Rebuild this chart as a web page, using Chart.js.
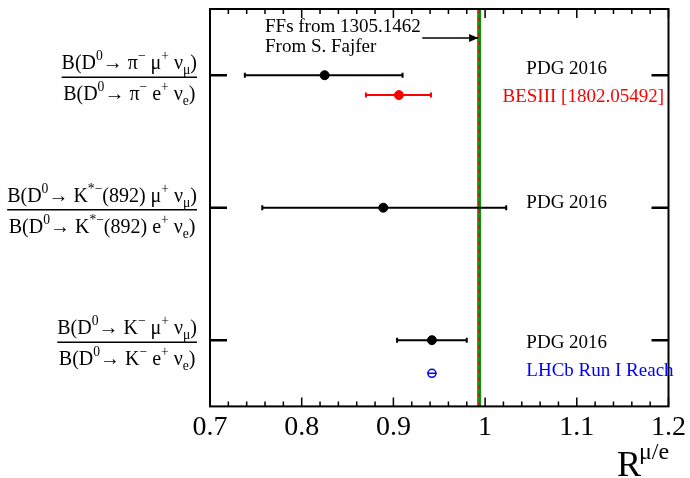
<!DOCTYPE html>
<html>
<head>
<meta charset="utf-8">
<script src="https://cdn.jsdelivr.net/npm/chart.js@4.4.0/dist/chart.umd.min.js"></script>
<style>
html, body { margin: 0; padding: 0; background: #fff; }
#wrap { width: 690px; height: 478px; position: relative; }
</style>
</head>
<body>
<div id="wrap"><canvas id="c"></canvas></div>
<script>
// 行の位置 (上から, y軸 0..3)
const rowPos = [0.5, 1.5, 2.5];

// 行ラベル (分子 / 分母) : [文字, 'sup' | 'sub']
const rowLabelNum = [
    [['B(D'], ['0', 'sup'], ['\u2192 \u03c0'], ['\u2212', 'sup'], [' \u03bc'], ['+', 'sup'], [' \u03bd'], ['\u03bc', 'sub'], [')']],
    [['B(D'], ['0', 'sup'], ['\u2192 K'], ['*\u2212', 'sup'], ['(892) \u03bc'], ['+', 'sup'], [' \u03bd'], ['\u03bc', 'sub'], [')']],
    [['B(D'], ['0', 'sup'], ['\u2192 K'], ['\u2212', 'sup'], [' \u03bc'], ['+', 'sup'], [' \u03bd'], ['\u03bc', 'sub'], [')']]
];
const rowLabelDen = [
    [['B(D'], ['0', 'sup'], ['\u2192 \u03c0'], ['\u2212', 'sup'], [' e'], ['+', 'sup'], [' \u03bd'], ['e', 'sub'], [')']],
    [['B(D'], ['0', 'sup'], ['\u2192 K'], ['*\u2212', 'sup'], ['(892) e'], ['+', 'sup'], [' \u03bd'], ['e', 'sub'], [')']],
    [['B(D'], ['0', 'sup'], ['\u2192 K'], ['\u2212', 'sup'], [' e'], ['+', 'sup'], [' \u03bd'], ['e', 'sub'], [')']]
];

// PDG 2016
const pdgValue = [0.825, 0.889, 0.942];
const pdgLow = [0.738, 0.757, 0.904];
const pdgHigh = [0.910, 1.023, 0.980];

// BESIII [1802.05492] (pi 行)
const besValue = [0.906];
const besLow = [0.870];
const besHigh = [0.941];
const besPos = [0.65];

// LHCb Run I Reach (K 行)
const lhcbValue = [0.942];
const lhcbLow = [0.937];
const lhcbHigh = [0.947];
const lhcbPos = [2.75];

// 予測値 (FFs from 1305.1462)
const smValue = 0.9935;

// x軸目盛り
const xTicks = [0.7, 0.8, 0.9, 1.0, 1.1, 1.2];

const SERIF = '"Liberation Serif", "DejaVu Serif", serif';

// 上付き・下付き付きの文字列
function richWidth(ctx, segs, size) {
    let w = 0;
    segs.forEach(([t, k]) => {
        ctx.font = `${k ? size * 0.68 : size}px ${SERIF}`;
        w += ctx.measureText(t).width;
    });
    return w;
}

function drawRich(ctx, segs, x, y, size) {
    ctx.textBaseline = 'alphabetic';
    ctx.textAlign = 'left';
    segs.forEach(([t, k]) => {
        ctx.font = `${k ? size * 0.68 : size}px ${SERIF}`;
        let dy = 0;
        if (k === 'sup') dy = -size * 0.45;
        if (k === 'sub') dy = size * 0.25;
        ctx.fillText(t, x, y + dy);
        x += ctx.measureText(t).width;
    });
}

// 誤差棒
function drawErrBar(ctx, xs, ys, lo, hi, y, color) {
    const x1 = xs.getPixelForValue(lo);
    const x2 = xs.getPixelForValue(hi);
    const py = ys.getPixelForValue(y);
    ctx.strokeStyle = color;
    ctx.lineWidth = 2;
    ctx.beginPath();
    ctx.moveTo(x1, py); ctx.lineTo(x2, py);
    ctx.moveTo(x1, py - 2.5); ctx.lineTo(x1, py + 2.5);
    ctx.moveTo(x2, py - 2.5); ctx.lineTo(x2, py + 2.5);
    ctx.stroke();
}

const backgroundPlugin = {
    id: 'background',
    beforeDatasetsDraw(chart) {
        const { ctx, chartArea: a, scales: { x, y } } = chart;
        ctx.save();

        // 予測線
        const sx = x.getPixelForValue(smValue);
        ctx.strokeStyle = '#138f13';
        ctx.lineWidth = 4;
        ctx.beginPath(); ctx.moveTo(sx, a.top); ctx.lineTo(sx, a.bottom); ctx.stroke();
        ctx.strokeStyle = '#ff0000';
        ctx.lineWidth = 1.5;
        ctx.setLineDash([4, 4]);
        ctx.beginPath(); ctx.moveTo(sx, a.top); ctx.lineTo(sx, a.bottom); ctx.stroke();
        ctx.setLineDash([]);

        // 誤差棒
        pdgValue.forEach((v, i) => drawErrBar(ctx, x, y, pdgLow[i], pdgHigh[i], rowPos[i], '#000'));
        besValue.forEach((v, i) => drawErrBar(ctx, x, y, besLow[i], besHigh[i], besPos[i], '#ff0000'));
        lhcbValue.forEach((v, i) => {
            ctx.strokeStyle = '#0000ff';
            ctx.lineWidth = 1.5;
            const py = y.getPixelForValue(lhcbPos[i]);
            ctx.beginPath();
            ctx.moveTo(x.getPixelForValue(lhcbLow[i]), py);
            ctx.lineTo(x.getPixelForValue(lhcbHigh[i]), py);
            ctx.stroke();
        });
        ctx.restore();
    },
    afterDraw(chart) {
        const { ctx, chartArea: a, scales: { x, y } } = chart;
        ctx.save();

        // 枠
        ctx.strokeStyle = '#000';
        ctx.lineWidth = 2;
        ctx.strokeRect(a.left, a.top, a.right - a.left, a.bottom - a.top);

        // x目盛り (上下, 内向き)
        ctx.lineWidth = 1.5;
        ctx.beginPath();
        for (let k = 0; k <= 25; k++) {
            const v = 0.7 + k * 0.02;
            const px = x.getPixelForValue(v);
            const len = k % 5 === 0 ? 9 : 5;
            ctx.moveTo(px, a.bottom); ctx.lineTo(px, a.bottom - len);
            ctx.moveTo(px, a.top); ctx.lineTo(px, a.top + len);
        }
        ctx.stroke();

        // y目盛り
        ctx.lineWidth = 2.5;
        ctx.beginPath();
        rowPos.forEach(r => {
            const py = y.getPixelForValue(r);
            ctx.moveTo(a.left, py); ctx.lineTo(a.left + 17, py);
            ctx.moveTo(a.right, py); ctx.lineTo(a.right - 17, py);
        });
        ctx.stroke();

        // 行ラベル
        ctx.fillStyle = '#000';
        const size = 20;
        rowPos.forEach((r, i) => {
            const py = y.getPixelForValue(r);
            const wn = richWidth(ctx, rowLabelNum[i], size);
            const wd = richWidth(ctx, rowLabelDen[i], size);
            const w = Math.max(wn, wd);
            const right = 197;
            ctx.lineWidth = 1.5;
            ctx.beginPath(); ctx.moveTo(right - w, py + 2); ctx.lineTo(right, py + 2); ctx.stroke();
            drawRich(ctx, rowLabelNum[i], right - w + (w - wn) / 2, py - 6, size);
            drawRich(ctx, rowLabelDen[i], right - w + (w - wd) / 2, py + 25, size);
        });

        // 凡例テキスト
        ctx.font = `19px ${SERIF}`;
        ctx.textBaseline = 'middle';
        ctx.textAlign = 'left';
        const tx = x.getPixelForValue(1.045);
        ctx.fillStyle = '#000';
        ctx.fillText('PDG 2016', tx, y.getPixelForValue(rowPos[0]) - 6);
        ctx.fillText('PDG 2016', tx, y.getPixelForValue(rowPos[1]) - 5);
        ctx.fillText('PDG 2016', tx, y.getPixelForValue(rowPos[2]) + 3);
        ctx.fillStyle = '#ff0000';
        ctx.fillText('BESIII [1802.05492]', x.getPixelForValue(1.019), y.getPixelForValue(besPos[0]) + 2);
        ctx.fillStyle = '#0000ff';
        ctx.fillText('LHCb Run I Reach', tx, y.getPixelForValue(lhcbPos[0]) - 2);

        // 注記と矢印
        ctx.fillStyle = '#000';
        const nx = x.getPixelForValue(0.76);
        ctx.fillText('FFs from 1305.1462', nx, a.top + 18);
        ctx.fillText('From S. Fajfer', nx, a.top + 38);
        const ay = a.top + 29;
        const ax1 = x.getPixelForValue(0.9315);
        const ax2 = x.getPixelForValue(smValue) - 1;
        ctx.strokeStyle = '#000';
        ctx.lineWidth = 1.5;
        ctx.beginPath(); ctx.moveTo(ax1, ay); ctx.lineTo(ax2, ay); ctx.stroke();
        ctx.beginPath();
        ctx.moveTo(ax2, ay); ctx.lineTo(ax2 - 9, ay - 4); ctx.lineTo(ax2 - 9, ay + 4);
        ctx.closePath(); ctx.fill();

        // x軸タイトル
        ctx.textBaseline = 'alphabetic';
        ctx.font = `36px ${SERIF}`;
        ctx.fillText('R', 617, 476);
        ctx.font = `24px ${SERIF}`;
        ctx.fillText('\u03bc/e', 639, 459);
        ctx.restore();
    }
};

const ctx = document.getElementById('c').getContext('2d');

new Chart(ctx, {
    type: 'scatter',
    data: {
        datasets: [
            {
                label: 'PDG 2016',
                data: pdgValue.map((v, i) => ({ x: v, y: rowPos[i] })),
                backgroundColor: '#000',
                borderColor: '#000',
                pointRadius: 4.5
            },
            {
                label: 'BESIII [1802.05492]',
                data: besValue.map((v, i) => ({ x: v, y: besPos[i] })),
                backgroundColor: '#ff0000',
                borderColor: '#ff0000',
                pointRadius: 4.5
            },
            {
                label: 'LHCb Run I Reach',
                data: lhcbValue.map((v, i) => ({ x: v, y: lhcbPos[i] })),
                backgroundColor: 'rgba(0,0,0,0)',
                borderColor: '#0000ff',
                borderWidth: 1.5,
                pointRadius: 4
            }
        ]
    },
    options: {
        responsive: true,
        maintainAspectRatio: false,
        animation: false,
        layout: { padding: { left: 210, right: 20, top: 9, bottom: 30 } },
        plugins: { legend: { display: false }, tooltip: { enabled: false } },
        scales: {
            x: {
                type: 'linear',
                min: 0.7,
                max: 1.2,
                afterBuildTicks: (scale) => { scale.ticks = xTicks.map(v => ({ value: v })); },
                ticks: {
                    callback: (v) => String(Number(v.toFixed(2))),
                    color: '#000',
                    font: { family: SERIF, size: 28 },
                    padding: 4,
                    maxRotation: 0,
                    autoSkip: false
                },
                grid: { display: false, drawTicks: false },
                border: { display: false }
            },
            y: {
                type: 'linear',
                min: 0,
                max: 3,
                reverse: true,
                display: false
            }
        }
    },
    plugins: [backgroundPlugin]
});
</script>
</body>
</html>
